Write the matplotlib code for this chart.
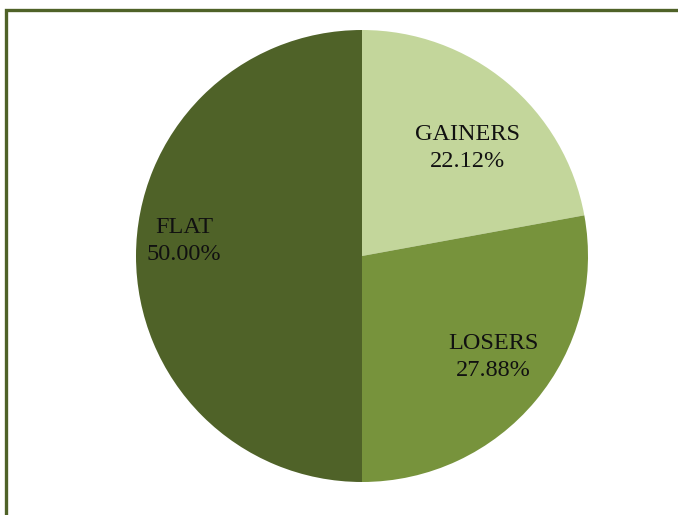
import numpy as np
import matplotlib
matplotlib.use("Agg")
import matplotlib.pyplot as plt
from matplotlib.lines import Line2D

# ---------- data ----------
categories = ["GAINERS", "LOSERS", "FLAT"]
shares = [22.12, 27.88, 50.00]
colors = ["#C3D69B", "#77933C", "#4F6228"]
# label placement: (distance from centre, angle tweak in degrees)
label_dist = [0.667, 0.732, 0.79]
label_tweak = [-4.4, 2.2, -4.8]

W, H = 678, 515
fig = plt.figure(figsize=(W / 100, H / 100), dpi=100)

# frame border (runs off the right and bottom edges)
fig.add_artist(Line2D([6 / W, 6 / W, 1.0], [0.0, 1 - 9.5 / H, 1 - 9.5 / H],
                      transform=fig.transFigure, color="#4F6228", lw=2.4,
                      solid_joinstyle="miter"))

cx, cy, r = 362, 256, 226
ax = fig.add_axes([(cx - r) / W, (H - cy - r) / H, 2 * r / W, 2 * r / H])
wedges, _ = ax.pie(shares, colors=colors, startangle=90, counterclock=False,
                   radius=1.0, wedgeprops=dict(linewidth=0))
ax.set_xlim(-1, 1)
ax.set_ylim(-1, 1)
ax.set_aspect("auto")
ax.axis("off")

for w, name, val, d, t in zip(wedges, categories, shares, label_dist, label_tweak):
    ang = np.deg2rad((w.theta1 + w.theta2) / 2 + t)
    ax.text(d * np.cos(ang), d * np.sin(ang), f"{name}\n{val:.2f}%",
            ha="center", va="center", fontsize=17.5, linespacing=1.42,
            family="Liberation Serif", color="#111111")

fig.savefig("out.png", dpi=100)
